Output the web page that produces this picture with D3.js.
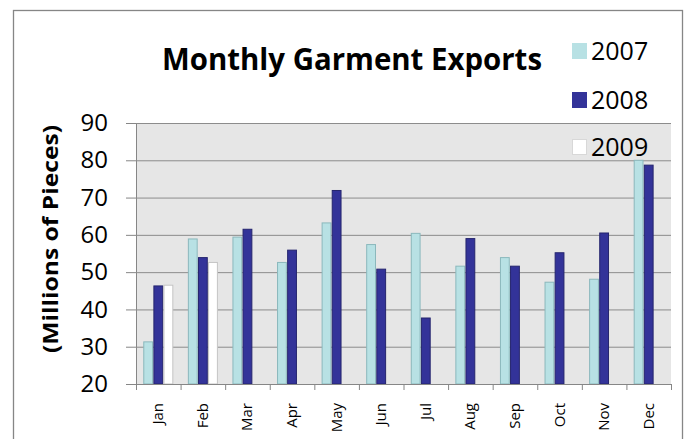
<!DOCTYPE html>
<html>
<head>
<meta charset="utf-8">
<script src="https://cdn.jsdelivr.net/npm/d3@7"></script>
<style>
  body { margin: 0; background: #fff; }
  svg { display: block; font-family: "Open Sans", sans-serif; }
</style>
</head>
<body>
<svg id="chart" width="686" height="439"></svg>
<script>
// chart data
var months = ["Jan", "Feb", "Mar", "Apr", "May", "Jun", "Jul", "Aug", "Sep", "Oct", "Nov", "Dec"];
var seriesNames = ["2007", "2008", "2009"];
var values2007 = [31.3, 58.9, 59.4, 52.6, 63.2, 57.4, 60.4, 51.6, 53.9, 47.3, 48.1, 80.0];
var values2008 = [46.3, 53.9, 61.5, 55.9, 71.9, 50.8, 37.7, 59.0, 51.6, 55.2, 60.5, 78.7];
var values2009 = [46.5, 52.6, null, null, null, null, null, null, null, null, null, null];
var yTicks = [20, 30, 40, 50, 60, 70, 80, 90];

var seriesValues = { "2007": values2007, "2008": values2008, "2009": values2009 };
var fills = { "2007": "#b8e1e4", "2008": "#333399", "2009": "#ffffff" };
var strokes = { "2007": "#8bb8bc", "2008": "#25256e", "2009": "#c4c4c4" };

var svg = d3.select("#chart");

// plot area edges (don't use "top" - it's window.top)
var plotLeft = 136, plotRight = 671, plotTop = 123, plotBottom = 384;

// outer border
svg.append("rect")
    .attr("x", 13.5).attr("y", 10.5)
    .attr("width", 669).attr("height", 460)
    .attr("fill", "none")
    .attr("stroke", "#868686")
    .attr("stroke-width", 1.3);

// scales
var x = d3.scaleBand().domain(months).range([plotLeft, plotRight]).paddingInner(0).paddingOuter(0);
var xs = d3.scaleBand().domain(seriesNames).range([0, x.bandwidth()]).paddingInner(0.03).paddingOuter(0.72);
var y = d3.scaleLinear().domain([20, 90]).range([plotBottom, plotTop]);

// plot background
svg.append("rect")
    .attr("x", plotLeft).attr("y", plotTop)
    .attr("width", plotRight - plotLeft).attr("height", plotBottom - plotTop)
    .attr("fill", "#e6e6e6");

// y axis
var yAxis = svg.append("g")
    .attr("transform", "translate(" + plotLeft + ",0)")
    .call(d3.axisLeft(y).tickValues(yTicks).tickSize(10).tickPadding(18).tickFormat(d3.format("d")));
yAxis.select(".domain").attr("stroke", "#868686");
yAxis.selectAll(".tick line").attr("stroke", "#868686");
yAxis.selectAll("text")
    .attr("font-family", "Open Sans")
    .attr("font-size", 24)
    .attr("fill", "#000");

// gridlines
svg.append("g")
    .selectAll("line")
    .data(yTicks)
    .enter()
    .append("line")
    .attr("x1", plotLeft).attr("x2", plotRight)
    .attr("y1", function(d) { return y(d) + 0.5; })
    .attr("y2", function(d) { return y(d) + 0.5; })
    .attr("stroke", "#8c8c8c")
    .attr("stroke-width", 1);

// bars
var groups = svg.append("g")
    .selectAll("g")
    .data(months)
    .enter()
    .append("g")
    .attr("transform", function(d) { return "translate(" + x(d) + ",0)"; });

groups.selectAll("rect")
    .data(function(m, i) {
        return seriesNames
            .map(function(s) { return { series: s, value: seriesValues[s][i] }; })
            .filter(function(d) { return d.value != null; });
    })
    .enter()
    .append("rect")
    .attr("x", function(d) { return xs(d.series) + 0.5; })
    .attr("y", function(d) { return y(d.value); })
    .attr("width", xs.bandwidth() - 1)
    .attr("height", function(d) { return plotBottom - y(d.value); })
    .attr("fill", function(d) { return fills[d.series]; })
    .attr("stroke", function(d) { return strokes[d.series]; })
    .attr("stroke-width", 1);

// x axis
var xAxis = svg.append("g")
    .attr("transform", "translate(0," + plotBottom + ")")
    .call(d3.axisBottom(x).tickSize(0).tickPadding(0));
xAxis.select(".domain").attr("stroke", "#868686");
xAxis.selectAll("text")
    .attr("font-family", "Open Sans")
    .attr("font-size", 15)
    .attr("fill", "#000")
    .attr("transform", "translate(5,19) rotate(-90)")
    .attr("dy", 0)
    .style("text-anchor", "end");

// category separator ticks
svg.append("g")
    .selectAll("line")
    .data(months.concat(["end"]))
    .enter()
    .append("line")
    .attr("x1", function(d, i) { return plotLeft + i * x.step() + 0.5; })
    .attr("x2", function(d, i) { return plotLeft + i * x.step() + 0.5; })
    .attr("y1", plotBottom)
    .attr("y2", plotBottom + 6)
    .attr("stroke", "#868686");

// title
svg.append("text")
    .attr("x", 352)
    .attr("y", 70)
    .attr("text-anchor", "middle")
    .attr("font-family", "Open Sans")
    .attr("font-weight", "bold")
    .attr("font-size", 30)
    .attr("textLength", 380)
    .attr("lengthAdjust", "spacingAndGlyphs")
    .text("Monthly Garment Exports");

// y axis title
svg.append("text")
    .attr("transform", "translate(58,239) rotate(-90)")
    .attr("text-anchor", "middle")
    .attr("font-family", "Open Sans")
    .attr("font-weight", "bold")
    .attr("font-size", 22)
    .attr("textLength", 228)
    .attr("lengthAdjust", "spacingAndGlyphs")
    .text("(Millions of Pieces)");

// legend
var legendY = [51, 100, 147];
var legend = svg.append("g")
    .selectAll("g")
    .data(seriesNames)
    .enter()
    .append("g")
    .attr("transform", function(d, i) { return "translate(572," + legendY[i] + ")"; });

legend.append("rect")
    .attr("x", 0.5).attr("y", -7.5)
    .attr("width", 14).attr("height", 15)
    .attr("fill", function(d) { return fills[d]; })
    .attr("stroke", function(d) { return d === "2009" ? "#d8d8d8" : fills[d]; });

legend.append("text")
    .attr("x", 19)
    .attr("y", 9)
    .attr("font-family", "Open Sans")
    .attr("font-size", 25)
    .attr("fill", "#000")
    .text(function(d) { return d; });
</script>
</body>
</html>
